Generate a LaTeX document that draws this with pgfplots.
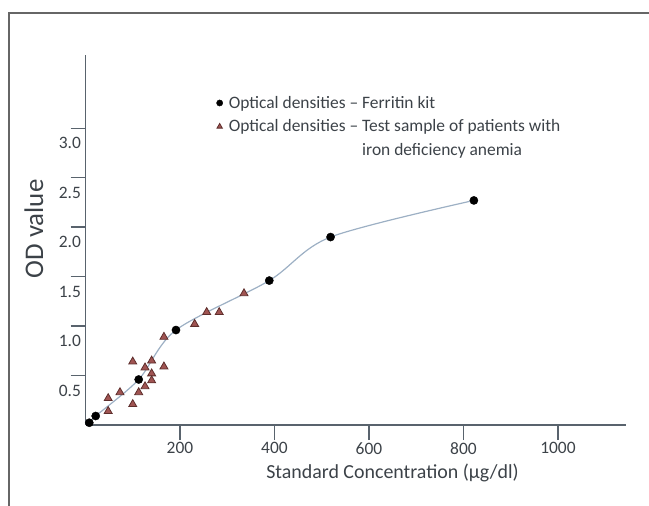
\documentclass[border=0pt]{standalone}
\usepackage{fontspec}
\setmainfont{Carlito}
\usepackage{pgfplots}
\pgfplotsset{compat=1.18}
\definecolor{axisgray}{HTML}{59636D}
\definecolor{curveblue}{HTML}{9DB0C4}
\definecolor{tri}{HTML}{A05452}
\definecolor{triedge}{HTML}{5E2E2C}
\definecolor{txt}{HTML}{3C4248}

\begin{document}
\begin{tikzpicture}[x=1bp,y=1bp]
\useasboundingbox (0,0) rectangle (649,-506);
\draw[line width=1.2bp, black!60] (9,-506) -- (9,-13) -- (649,-13);
\begin{axis}[
    at={(85.5bp,-425bp)}, anchor=south west,
    scale only axis, width=540.5bp, height=370bp,
    xmin=0, xmax=1144, ymin=0, ymax=3.74,
    axis x line=bottom, axis y line=left,
    axis line style={-, axisgray, line width=1.4bp},
    tick style={axisgray, line width=1.4bp},
    tick align=outside, major tick length=15bp,
    xtick={200,400,600,800,1000},
    ytick={0.5,1,1.5,2,2.5,3},
    yticklabels={0.5,1.0,1.5,2.0,2.5,3.0},
    /pgf/number format/assume math mode=true,
    /pgf/number format/1000 sep={},
    ticklabel style={font=\fontsize{17.5}{20}\selectfont, text=txt},
    xticklabel style={yshift=1bp},
    yticklabel style={yshift=-15bp, xshift=14bp},
    xlabel={Standard Concentration (µg/dl)},
    xlabel style={at={(axis description cs:0.568,0)}, anchor=center, yshift=-48bp,
                  font=\fontsize{20}{24}\selectfont, text=txt},
    ylabel={OD value},
    ylabel style={at={(axis description cs:-0.0953,0.53)}, anchor=center,
                  font=\fontsize{27}{32}\selectfont, text=txt},
    legend cell align=left,
    legend image post style={mark size=3.1bp},
    legend style={at={(axis description cs:0.2266,0.90)}, anchor=north west,
                  draw=none, fill=none, font=\fontsize{17.5}{20}\selectfont, text=txt,
                  row sep=6bp, /tikz/every odd column/.append style={column sep=4bp}},
]
\addplot[curveblue, line width=1.2bp, smooth, tension=0.5, forget plot] coordinates {
    (8,0.023) (21.6,0.091) (112.6,0.46) (191.5,0.96) (389,1.46) (518.7,1.90) (822,2.27)
};
\addplot[only marks, mark=*, mark size=4.1bp, black] coordinates {
    (8,0.023) (21.6,0.091) (112.6,0.46) (191.5,0.96) (389,1.46) (518.7,1.90) (822,2.27)
};
\addlegendentry{Optical densities -- Ferritin kit}
\addplot[only marks, mark=triangle*, mark size=4.6bp,
         mark options={fill=tri, draw=triedge, line width=0.8bp}] coordinates {
    (48,0.27) (48,0.14) (73,0.33) (100,0.64) (100,0.21) (112.6,0.33)
    (126,0.58) (126,0.39) (140,0.65) (140,0.52) (140,0.45) (166,0.59)
    (166,0.89) (231,1.02) (256.5,1.14) (283,1.14) (335.5,1.33)
};
\addlegendentry{Optical densities -- Test sample of patients with}
\addlegendimage{empty legend}
\addlegendentry{\phantom{Optical densities -- }iron deficiency anemia}
\end{axis}
\end{tikzpicture}
\end{document}
